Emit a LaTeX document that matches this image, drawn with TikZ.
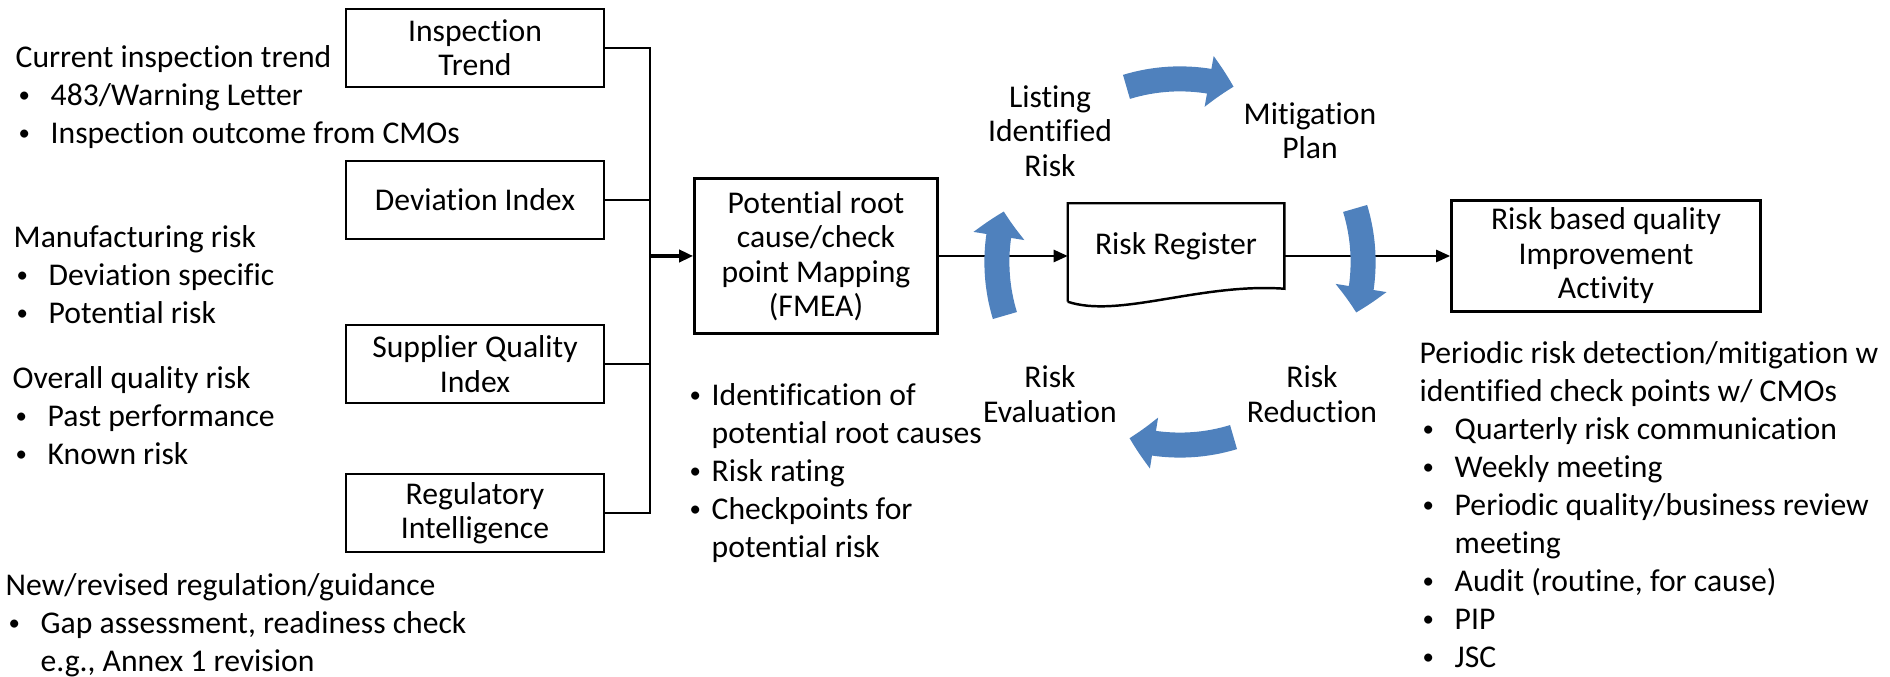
\documentclass[tikz,border=0pt]{standalone}
\usepackage{fontspec}
\setmainfont{Carlito}[Ligatures={NoCommon,NoContextual},Contextuals=NoAlternate]
\usetikzlibrary{arrows.meta,bending}
\definecolor{cycblue}{HTML}{4F81BD}
\newcommand{\bxfont}{\fontsize{9}{9.8}\selectfont}
\newcommand{\ntfont}{\fontsize{9}{10.8}\selectfont}
\newcommand{\bdot}{\raisebox{0.03cm}{\fontsize{6.5}{6.5}\selectfont\textbullet}}
\newcommand{\bul}[2][0.35cm]{\makebox[#1][l]{\hspace*{0.03cm}\bdot}#2}
\newcommand{\cont}[2][0.35cm]{\hspace*{#1}#2}
\tikzset{
  box/.style={draw, line width=0.7pt, minimum width=2.58cm, minimum height=0.78cm, align=center, inner sep=1pt, font=\bxfont},
  lbl/.style={align=center, inner sep=0pt, font=\bxfont},
  note/.style={align=left, anchor=west, inner sep=0pt, font=\ntfont},
  wire/.style={line width=0.7pt},
  arr/.style={wire, -{Triangle[length=0.14cm,width=0.12cm]}},
  cyc/.style={line width=0.25cm, draw=cycblue, -{Triangle[width=0.5cm,length=0.25cm,bend]}},
}
\begin{document}
\begin{tikzpicture}[x=0.01cm, y=-0.01cm]
  \useasboundingbox (0,0) rectangle (1890,677);

  % input boxes
  \node(insp)[box] at (475,48) {Inspection\\Trend};
  \node(dev)[box] at (475,200) {Deviation Index};
  \node(sup)[box] at (475,364) {Supplier Quality\\Index};
  \node(reg)[box] at (475,513) {Regulatory\\Intelligence};

  \coordinate (jn) at (650,256);
  \node(fmea)[box, minimum width=2.43cm, minimum height=1.55cm] at (816,256) {Potential root\\cause/check\\point Mapping\\(FMEA)};
  \node(rr)[lbl, minimum width=2.15cm, minimum height=0.84cm] at (1176,246) {Risk Register};
  \node(rbq)[box, minimum width=3.09cm, minimum height=1.11cm] at (1606,256) {Risk based quality\\Improvement\\Activity};

  \draw[wire] (insp.east) -| (jn);
  \draw[wire] (dev.east) -| (jn);
  \draw[wire] (sup.east) -| (jn);
  \draw[wire] (reg.east) -| (jn);
  \draw[arr, line width=1pt] (jn) -- (fmea);

  % register sheet with wavy bottom
  \draw[wire] ([yshift=-0.13cm]rr.south west) -- (rr.north west) -- (rr.north east) -- (rr.south east)
    .. controls +(-84,-6) and +(51,17) .. ([yshift=-0.13cm]rr.south west);
  \draw[arr] (fmea.east) -- (fmea.east -| rr.west);
  \draw[arr] (fmea.east -| rr.east) -- (rbq.west);

  % cycle arrows round the register
  \coordinate (cyc) at (1180,262);
  \draw[cyc] (cyc) ++(197:1.83cm) arc[start angle=197, end angle=164, radius=1.83cm];
  \draw[cyc] (cyc) ++(107:1.83cm) arc[start angle=107, end angle=73, radius=1.83cm];
  \draw[cyc] (cyc) ++(17:1.83cm) arc[start angle=17, end angle=-16, radius=1.83cm];
  \draw[cyc] (cyc) ++(-73:1.83cm) arc[start angle=-73, end angle=-106, radius=1.83cm];

  \node(lst)[lbl] at (1050,131) {Listing\\Identified\\Risk};
  \node(mit)[lbl] at (1310,131) {Mitigation\\Plan};
  \node(eval)[lbl] at (1050,394) {Risk\\Evaluation};
  \node(redu)[lbl] at (1312,394) {Risk\\Reduction};

  % notes
  \node(ntinsp)[note] at (15,97) {Current inspection trend\\\bul{483/Warning Letter}\\\bul{Inspection outcome from CMOs}};
  \node(ntmfg)[note] at (13,275) {Manufacturing risk\\\bul{Deviation specific}\\\bul{Potential risk}};
  \node(ntqual)[note] at (12,416) {Overall quality risk\\\bul{Past performance}\\\bul{Known risk}};
  \node(ntreg)[note] at (5,625) {New/revised regulation/guidance\\\bul{Gap assessment, readiness check}\\\cont{e.g., Annex 1 revision}};
  \node(ntfmea)[note] at (686,473) {\bul[0.25cm]{Identification of}\\\cont[0.25cm]{potential root causes}\\\bul[0.25cm]{Risk rating}\\\bul[0.25cm]{Checkpoints for}\\\cont[0.25cm]{potential risk}};
  \node(ntper)[note] at (1419,505) {Periodic risk detection/mitigation w\\identified check points w/ CMOs\\\bul{Quarterly risk communication}\\\bul{Weekly meeting}\\\bul{Periodic quality/business review}\\\cont{meeting}\\\bul{Audit (routine, for cause)}\\\bul{PIP}\\\bul{JSC}};
\end{tikzpicture}
\end{document}
